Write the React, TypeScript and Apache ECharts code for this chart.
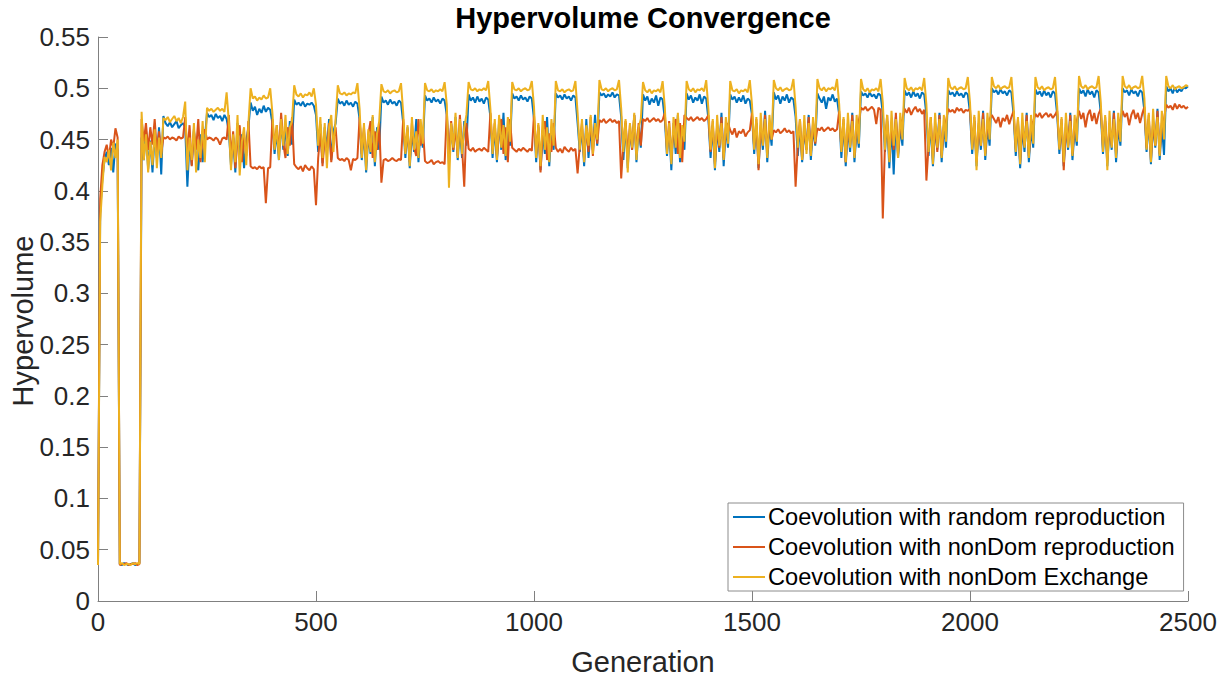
import { useEffect, useRef } from "react";
import * as echarts from "echarts";

// Generations between consecutive samples (0, 5, 10, ... 2500)
const GEN_STEP = 5;

// Hypervolume x 1000, one row per 100 generations
const randomRepro = [
  35,378,412,430,438,425,442,418,446,440, 36,35,37,36,35,36,37,35,36,37,
  452,430,460,421,449,418,455,432,462,416, 473,466,463,467,462,465,468,461,464,466,
  462,404,448,425,460,432,420,455,428,450, 476,472,474,469,475,471,473,468,474,470,
  458,425,452,418,466,430,455,422,448,462, 486,478,482,474,480,476,483,477,481,479,
  466,436,458,430,470,440,462,434,468,445, 489,484,486,483,487,482,485,484,486,483,
  474,438,465,427,462,440,470,430,458,466, 490,485,487,483,488,484,486,482,487,485,
  470,430,458,418,455,436,472,424,462,440, 492,486,488,484,489,485,487,483,488,486,
  466,432,462,422,458,438,470,428,460,442, 493,488,490,486,491,487,489,485,490,488,
  474,426,465,438,472,430,460,432,468,444, 494,488,491,486,492,487,490,485,491,489,
  472,432,462,428,468,440,476,430,460,444, 495,490,492,488,493,489,491,487,492,490,
  470,428,462,420,456,436,472,424,460,440, 495,491,493,489,494,490,492,488,493,491,
  466,438,462,424,470,432,460,440,474,444, 496,493,495,491,494,492,496,491,494,493,
  472,430,466,422,460,440,474,428,462,442, 494,488,492,484,490,486,493,483,491,489,
  470,434,462,420,466,436,474,428,460,440, 495,489,493,486,491,488,494,485,492,490,
  470,432,464,420,462,438,476,424,462,442, 494,489,492,486,491,487,493,485,490,488,
  474,436,466,422,462,440,478,428,464,444, 496,489,493,485,492,488,494,486,491,489,
  472,434,464,428,460,440,474,430,462,444, 495,490,486,492,480,491,488,494,487,490,
  474,432,466,424,462,438,476,428,460,442, 497,493,495,491,496,492,494,490,495,493,
  476,438,468,422,464,416,472,432,462,444, 498,493,496,491,497,492,495,490,496,494,
  474,434,466,424,462,440,476,428,464,442, 498,494,496,492,497,493,495,491,496,494,
  476,436,468,424,464,440,478,430,462,444, 500,496,498,494,499,495,497,493,498,496,
  474,434,466,422,462,438,476,428,460,442, 499,494,497,492,498,493,496,491,497,495,
  474,436,466,424,462,440,476,430,460,444, 500,495,498,492,499,494,497,491,498,496,
  476,436,468,424,464,440,478,428,462,444, 500,496,498,493,499,495,497,492,498,496,
  478,438,470,426,466,442,480,430,464,435, 502,497,500,495,501,496,499,497,501,500,
  502,
];

const nonDomRepro = [
  35,392,425,438,445,432,450,442,461,452, 35,36,36,37,35,36,36,37,35,36,
  470,448,466,440,462,445,470,438,458,436, 452,451,453,450,452,451,449,453,451,452,
  472,436,464,424,458,440,470,428,452,460, 450,452,451,449,452,450,445,451,452,450,
  474,432,458,422,450,464,428,455,434,468, 424,422,423,421,424,422,423,388,422,423,
  470,442,464,436,476,446,432,462,444,472, 426,423,421,424,419,425,422,420,424,421,
  386,432,458,424,452,438,466,428,450,462, 432,430,431,429,432,430,420,431,430,432,
  472,436,462,428,455,468,432,458,440,466, 408,430,431,429,430,432,430,429,431,430,
  470,438,460,428,466,442,434,470,444,462, 429,427,428,430,426,428,429,427,428,426,
  478,432,468,440,462,434,474,442,404,466, 441,439,442,438,440,441,439,442,440,438,
  476,440,466,432,458,470,436,462,428,470, 442,440,438,441,439,442,440,438,441,439,
  474,436,464,418,458,468,430,456,438,466, 442,438,441,437,443,440,438,442,439,441,
  417,444,466,430,462,438,472,434,464,446, 469,467,470,466,468,470,467,469,466,468,
  412,448,468,434,464,440,474,436,466,444, 470,468,471,467,469,471,468,470,467,469,
  476,440,468,430,462,470,436,466,428,474, 471,469,472,468,470,472,469,471,468,470,
  474,438,468,426,464,442,472,432,460,466, 459,455,461,452,458,456,460,453,457,459,
  476,442,470,420,464,446,474,436,466,450, 459,457,460,456,458,461,457,459,456,458,
  404,444,470,430,464,440,472,436,466,446, 461,459,462,458,460,462,459,461,458,460,
  478,440,470,428,466,444,474,434,462,468, 481,479,482,478,480,482,479,465,481,479,
  373,446,474,432,466,440,476,436,464,470, 480,476,481,474,479,482,477,480,475,479,
  410,444,472,430,466,438,474,434,462,468, 480,477,479,476,481,478,480,476,479,478,
  480,442,472,428,466,444,476,436,464,470, 474,470,466,472,462,471,468,474,465,472,
  478,440,470,428,466,444,474,434,462,468, 475,472,476,471,474,476,472,475,471,474,
  478,442,470,420,466,444,474,436,462,468, 478,470,476,462,474,479,468,476,465,475,
  480,442,472,430,466,444,476,436,464,470, 478,472,476,464,474,479,470,476,466,475,
  482,442,474,430,468,444,478,436,466,470, 484,481,483,479,485,480,484,481,483,480,
  482,
];

const nonDomExchange = [
  35,370,405,433,428,440,420,447,432,450, 36,37,35,36,36,35,37,36,37,36,
  477,430,455,418,448,425,460,422,452,432, 471,469,472,467,470,473,468,471,466,472,
  487,420,452,430,466,418,450,432,468,428, 481,478,480,477,479,481,478,480,477,496,
  468,420,455,428,474,415,448,462,425,466, 500,490,492,488,491,489,493,490,491,500,
  476,440,464,430,470,444,474,436,462,468, 503,494,492,495,491,494,493,496,492,500,
  484,444,472,432,466,422,462,474,438,470, 503,495,494,496,493,495,494,496,495,505,
  480,432,466,420,460,438,474,428,456,468, 504,497,496,498,495,497,498,496,497,505,
  476,436,464,424,472,440,458,432,470,446, 505,498,497,499,496,498,497,499,497,506,
  484,403,466,442,476,432,470,436,462,474, 506,499,498,500,497,499,498,500,498,507,
  480,436,470,430,474,442,464,434,472,448, 506,499,498,500,497,499,500,498,499,507,
  482,432,466,424,474,440,462,428,470,444, 507,498,497,499,496,498,499,497,498,507,
  476,440,470,428,464,444,474,436,466,450, 508,499,498,500,497,499,500,498,499,508,
  480,438,470,418,466,442,476,430,462,470, 506,498,496,499,495,498,497,499,496,507,
  482,436,466,426,472,442,476,432,464,448, 507,499,497,500,496,499,498,500,497,508,
  480,440,470,422,474,444,466,430,472,446, 507,498,497,499,495,498,497,499,496,508,
  484,440,472,426,476,444,470,432,474,450, 508,500,498,501,497,499,500,498,499,509,
  482,442,470,430,474,436,466,434,472,448, 509,500,498,501,497,500,499,501,498,509,
  484,438,472,428,476,442,468,432,474,446, 509,499,497,500,496,499,498,500,497,509,
  486,440,474,428,478,444,470,432,476,450, 510,500,498,501,497,500,499,501,498,510,
  484,438,472,426,476,442,470,432,474,448, 510,501,499,502,498,500,501,499,500,511,
  486,440,474,420,478,444,470,434,476,450, 511,502,500,503,499,501,502,500,501,511,
  482,438,472,426,476,442,468,432,474,446, 511,501,499,502,498,500,501,499,500,511,
  482,440,472,428,476,442,468,434,474,448, 512,502,500,503,499,501,502,500,501,512,
  486,438,474,420,478,442,470,432,476,448, 512,502,500,503,499,501,502,500,501,512,
  490,440,476,428,480,444,472,434,478,450, 512,502,500,503,499,501,502,500,501,503,
  502,
];

const seriesNames = [
  "Coevolution with random reproduction",
  "Coevolution with nonDom reproduction",
  "Coevolution with nonDom Exchange",
];
const seriesValues = [randomRepro, nonDomRepro, nonDomExchange];
const seriesColors = ["#0072BD", "#D95319", "#EDB120"];

const xTicks = [0, 500, 1000, 1500, 2000, 2500];
const yTicks = [0, 0.05, 0.1, 0.15, 0.2, 0.25, 0.3, 0.35, 0.4, 0.45, 0.5, 0.55];

const FONT = "'Liberation Sans', Arial, Helvetica, sans-serif";
const TEXT = "#262626";
const AXIS = "#808080";

const toPoints = (vals: number[]) => vals.map((v, i) => [i * GEN_STEP, v / 1000]);

export default function App() {
  const ref = useRef<HTMLDivElement>(null);

  useEffect(() => {
    if (!ref.current) return;
    const chart = echarts.init(ref.current, undefined, { renderer: "svg" });
    const xStep = xTicks[1] - xTicks[0];
    const yStep = yTicks[1] - yTicks[0];

    chart.setOption({
      animation: false,
      backgroundColor: "#ffffff",
      textStyle: { fontFamily: FONT },
      grid: {
        left: 98,
        right: 37,
        top: 37,
        bottom: 80,
        containLabel: false,
        outerBoundsMode: "none",
      },
      graphic: [
        {
          type: "text",
          x: 643,
          y: 18,
          style: {
            text: "Hypervolume Convergence",
            font: `bold 29px ${FONT}`,
            fill: "#000000",
            textAlign: "center",
            textVerticalAlign: "middle",
          },
        },
        {
          type: "text",
          x: 23,
          y: 321,
          rotation: Math.PI / 2,
          style: {
            text: "Hypervolume",
            font: `29px ${FONT}`,
            fill: TEXT,
            textAlign: "center",
            textVerticalAlign: "middle",
          },
        },
      ],
      legend: {
        orient: "vertical",
        left: 728,
        top: 503,
        icon: "rect",
        itemWidth: 32,
        itemHeight: 2,
        itemGap: 6,
        padding: [2, 9, 2, 5],
        borderColor: "#8c8c8c",
        borderWidth: 1,
        borderRadius: 0,
        backgroundColor: "#ffffff",
        selectedMode: false,
        textStyle: { fontSize: 23.6, color: "#000000", fontFamily: FONT, padding: [0, 0, 0, -2] },
        data: seriesNames,
      },
      xAxis: {
        type: "value",
        min: xTicks[0],
        max: xTicks[xTicks.length - 1],
        interval: xStep,
        name: "Generation",
        nameLocation: "middle",
        nameGap: 46,
        nameTextStyle: { fontSize: 29, color: TEXT, fontFamily: FONT },
        axisLine: { show: true, lineStyle: { color: AXIS, width: 1 } },
        axisTick: { show: true, inside: true, length: 10, lineStyle: { color: AXIS } },
        axisLabel: {
          fontSize: 26,
          color: TEXT,
          margin: 8,
          fontFamily: FONT,
          formatter: (v: number) => String(v),
        },
        splitLine: { show: false },
      },
      yAxis: {
        type: "value",
        min: yTicks[0],
        max: yTicks[yTicks.length - 1],
        interval: yStep,
        axisLine: { show: true, lineStyle: { color: AXIS, width: 1 } },
        axisTick: { show: true, inside: true, length: 10, lineStyle: { color: AXIS } },
        axisLabel: {
          fontSize: 26,
          color: TEXT,
          margin: 8,
          fontFamily: FONT,
          formatter: (v: number) => String(parseFloat(v.toFixed(2))),
        },
        splitLine: { show: false },
      },
      series: seriesValues.map((vals, i) => ({
        name: seriesNames[i],
        type: "line",
        data: toPoints(vals),
        showSymbol: false,
        symbol: "none",
        color: seriesColors[i],
        lineStyle: { color: seriesColors[i], width: 2 },
        emphasis: { disabled: true },
      })),
    });

    return () => chart.dispose();
  }, []);

  return (
    <div
      ref={ref}
      style={{ position: "fixed", left: 0, top: 0, width: 1225, height: 681, background: "#fff" }}
    />
  );
}
